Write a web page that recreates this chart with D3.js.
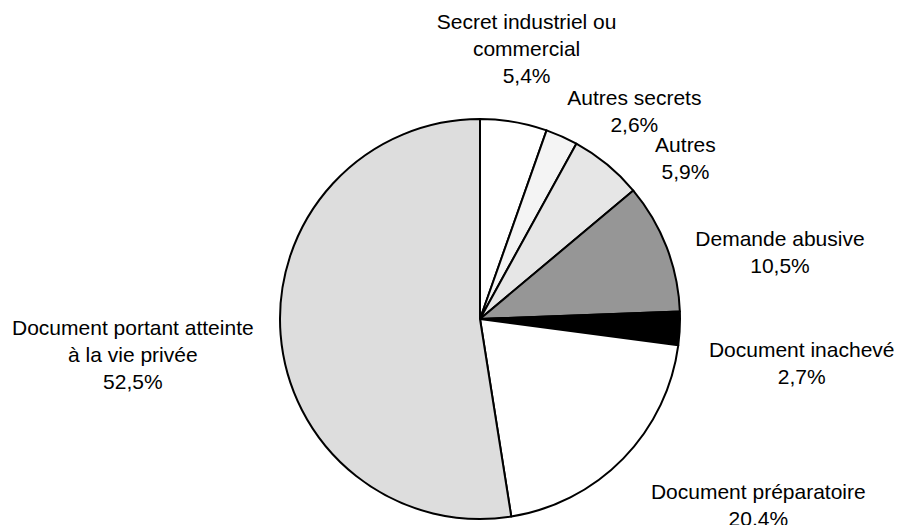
<!DOCTYPE html>
<html lang="fr">
<head>
<meta charset="utf-8">
<title>Répartition des refus</title>
<script src="https://d3js.org/d3.v7.min.js"></script>
<style>
  body { margin: 0; background: #fff; }
  .label { font-family: Arial, "Liberation Sans", sans-serif; font-size: 21px; fill: #000; }
</style>
</head>
<body>
<div id="vis"></div>
<script>
const categories = [
  ["Secret industriel ou", "commercial"],
  ["Autres secrets"],
  ["Autres"],
  ["Demande abusive"],
  ["Document inachevé"],
  ["Document préparatoire"],
  ["Document portant atteinte", "à la vie privée"]
];
const values = [5.4, 2.6, 5.9, 10.5, 2.7, 20.4, 52.5];
const valueLabels = ["5,4%", "2,6%", "5,9%", "10,5%", "2,7%", "20,4%", "52,5%"];
const fills = ["#ffffff", "#f4f4f4", "#e6e6e6", "#969696", "#000000", "#ffffff", "#dddddd"];
// nudges of each label block from the outer label arc (Excel "best fit" look)
const labelNudge = [[1, -4], [44, 39], [34, 48], [48, 30], [52, 31], [85, -2], [-78, 14]];

const width = 898, height = 525;
const cx = 480, cy = 319, radius = 200;

const svg = d3.select("#vis").append("svg")
  .attr("width", width)
  .attr("height", height);

const g = svg.append("g").attr("transform", `translate(${cx},${cy})`);

const pie = d3.pie().sort(null).value(d => d);
const arcs = pie(values);

const arc = d3.arc().innerRadius(0).outerRadius(radius);
const labelArc = d3.arc().innerRadius(radius + 70).outerRadius(radius + 70);

g.selectAll("path")
  .data(arcs)
  .enter()
  .append("path")
  .attr("d", arc)
  .attr("fill", (d, i) => fills[i])
  .attr("stroke", "#000")
  .attr("stroke-width", 2)
  .attr("stroke-linejoin", "round");

const lineH = 27;
const labels = g.selectAll("text.label")
  .data(arcs)
  .enter()
  .append("text")
  .attr("class", "label")
  .attr("text-anchor", "middle")
  .attr("transform", (d, i) => {
    const c = labelArc.centroid(d);
    return `translate(${c[0] + labelNudge[i][0]},${c[1] + labelNudge[i][1]})`;
  });

labels.each(function (d, i) {
  const lines = categories[i].concat([valueLabels[i]]);
  const t = d3.select(this);
  const y0 = -(lines.length - 1) * lineH / 2;
  lines.forEach((s, k) => {
    t.append("tspan")
      .attr("x", 0)
      .attr("y", y0 + k * lineH)
      .attr("dy", "0.35em")
      .text(s);
  });
});
</script>
</body>
</html>
